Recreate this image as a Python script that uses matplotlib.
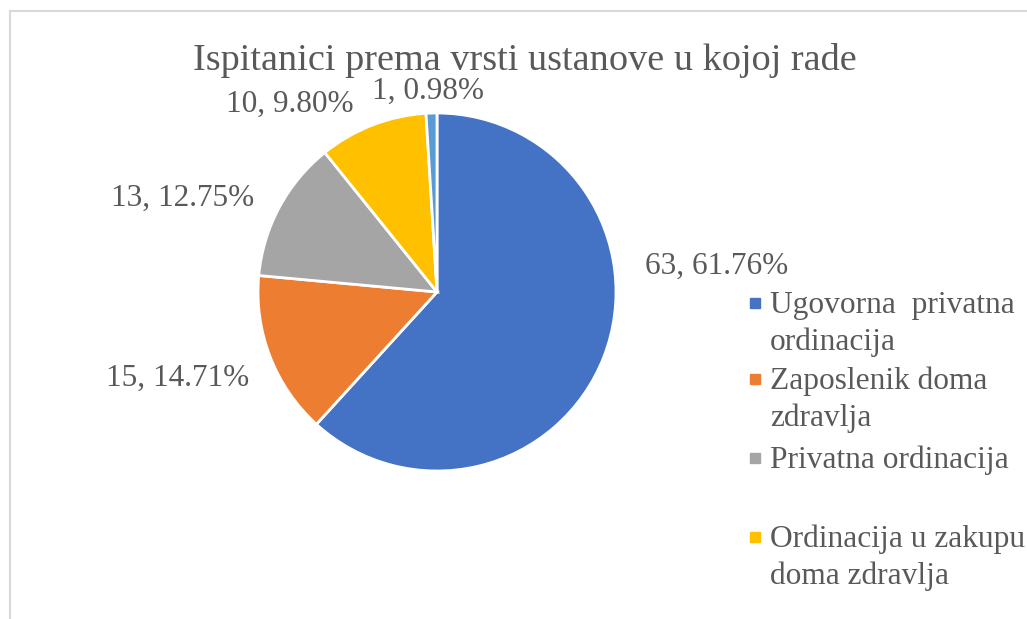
import matplotlib
matplotlib.use('Agg')
import matplotlib.pyplot as plt
from matplotlib.patches import Rectangle

# podaci
categories = ['Ugovorna  privatna\nordinacija', 'Zaposlenik doma\nzdravlja',
              'Privatna ordinacija', 'Ordinacija u zakupu\ndoma zdravlja', 'Ostalo']
counts = [63, 15, 13, 10, 1]
percents = [61.76, 14.71, 12.75, 9.80, 0.98]
colors = ['#4472C4', '#ED7D31', '#A5A5A5', '#FFC000', '#5B9BD5']

plt.rcParams['font.family'] = ['Liberation Serif', 'DejaVu Serif']
txt_color = '#595959'

fig = plt.figure(figsize=(10.27, 6.19), dpi=100)
ax = fig.add_axes([0, 0, 1, 1])
H = 619

wedges, _ = ax.pie(counts, colors=colors, startangle=90, counterclock=False,
                   center=(437, H - 292), radius=179, frame=True,
                   wedgeprops=dict(edgecolor='white', linewidth=2))
ax.set_xlim(0, 1027)
ax.set_ylim(0, H)
ax.set_aspect('equal')
ax.axis('off')

# pozicije oznaka (piksel)
label_pos = [(717, 266), (178, 378), (183, 198), (290, 104), (428, 91)]
for (x, y), c, p in zip(label_pos, counts, percents):
    ax.text(x, H - y, f'{c}, {p:.2f}%', ha='center', va='center',
            fontsize=22.5, color=txt_color)

ax.text(525, H - 60, 'Ispitanici prema vrsti ustanove u kojoj rade', ha='center',
        va='center', fontsize=27.5, color=txt_color)

# legenda (samo 4 stavke vidljive)
leg_y = [305, 381, 460, 539]
for y, lab, col in zip(leg_y, categories[:4], colors[:4]):
    ax.add_patch(Rectangle((750, H - y - 3), 10, 10, color=col))
    for i, line in enumerate(lab.split('\n')):
        ax.text(770, H - y - 37 * i, line, ha='left', va='center',
                fontsize=22.6, color=txt_color)

# okvir
ax.plot([10, 10], [0, H - 11], color='#D9D9D9', lw=1.5)
ax.plot([10, 1027], [H - 11, H - 11], color='#D9D9D9', lw=1.5)

fig.savefig('out.png', dpi=100)
